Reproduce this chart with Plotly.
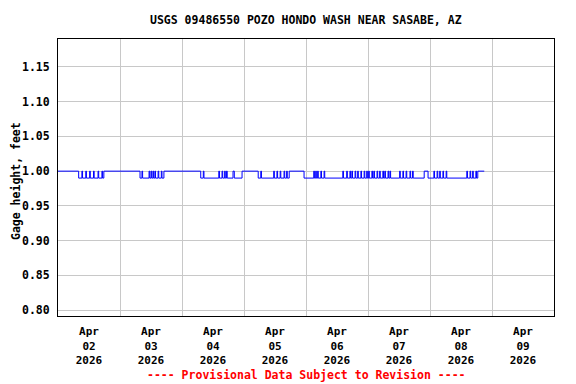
import plotly.graph_objects as go

# Change points of gage height (step data, value holds until next change)
change_times = [
    "2026-04-02 00:00", "2026-04-02 08:00",
    "2026-04-02 09:15", "2026-04-02 09:30", "2026-04-02 10:45", "2026-04-02 11:00",
    "2026-04-02 12:15", "2026-04-02 12:30", "2026-04-02 13:45", "2026-04-02 14:00",
    "2026-04-02 15:30", "2026-04-02 15:45", "2026-04-02 17:00", "2026-04-02 17:15",
    "2026-04-02 17:45",
    "2026-04-03 07:45", "2026-04-03 08:30", "2026-04-03 08:45",
    "2026-04-03 11:15", "2026-04-03 11:30", "2026-04-03 12:00", "2026-04-03 12:15",
    "2026-04-03 12:45", "2026-04-03 13:00", "2026-04-03 13:30", "2026-04-03 13:45",
    "2026-04-03 14:45", "2026-04-03 15:00", "2026-04-03 16:00", "2026-04-03 16:15",
    "2026-04-03 17:00",
    "2026-04-04 07:15", "2026-04-04 08:15", "2026-04-04 08:30",
    "2026-04-04 14:15", "2026-04-04 14:30", "2026-04-04 15:30", "2026-04-04 15:45",
    "2026-04-04 16:30", "2026-04-04 16:45", "2026-04-04 17:15", "2026-04-04 17:30",
    "2026-04-04 19:45", "2026-04-04 20:15", "2026-04-04 23:15",
    "2026-04-05 05:30", "2026-04-05 06:30", "2026-04-05 06:45",
    "2026-04-05 11:30", "2026-04-05 11:45", "2026-04-05 12:45", "2026-04-05 13:00",
    "2026-04-05 14:00", "2026-04-05 14:15", "2026-04-05 15:30", "2026-04-05 15:45",
    "2026-04-05 16:30", "2026-04-05 16:45", "2026-04-05 17:30", "2026-04-05 23:15",
    "2026-04-06 03:00", "2026-04-06 03:15", "2026-04-06 03:45", "2026-04-06 04:00",
    "2026-04-06 04:30", "2026-04-06 04:45", "2026-04-06 05:45", "2026-04-06 06:00",
    "2026-04-06 07:00", "2026-04-06 07:15",
    "2026-04-06 14:15", "2026-04-06 14:30", "2026-04-06 15:45", "2026-04-06 16:00",
    "2026-04-06 17:00", "2026-04-06 17:15", "2026-04-06 17:45", "2026-04-06 18:00",
    "2026-04-06 19:00", "2026-04-06 19:15", "2026-04-06 20:00", "2026-04-06 20:15",
    "2026-04-06 21:15", "2026-04-06 21:30", "2026-04-06 22:30", "2026-04-06 22:45",
    "2026-04-06 23:30", "2026-04-06 23:45",
    "2026-04-07 00:15", "2026-04-07 00:30", "2026-04-07 01:30", "2026-04-07 01:45",
    "2026-04-07 02:15", "2026-04-07 02:30", "2026-04-07 03:30", "2026-04-07 03:45",
    "2026-04-07 04:30", "2026-04-07 04:45", "2026-04-07 05:45", "2026-04-07 06:00",
    "2026-04-07 06:30", "2026-04-07 06:45", "2026-04-07 07:45", "2026-04-07 08:00",
    "2026-04-07 08:30", "2026-04-07 08:45",
    "2026-04-07 12:15", "2026-04-07 12:30", "2026-04-07 13:30", "2026-04-07 13:45",
    "2026-04-07 14:45", "2026-04-07 15:00", "2026-04-07 16:15", "2026-04-07 16:30",
    "2026-04-07 17:15", "2026-04-07 17:30", "2026-04-07 21:45", "2026-04-07 23:15",
    "2026-04-08 01:30", "2026-04-08 01:45", "2026-04-08 02:45", "2026-04-08 03:00",
    "2026-04-08 03:45", "2026-04-08 04:00", "2026-04-08 05:00", "2026-04-08 05:15",
    "2026-04-08 06:15", "2026-04-08 06:30",
    "2026-04-08 14:15", "2026-04-08 14:30", "2026-04-08 15:30", "2026-04-08 15:45",
    "2026-04-08 16:30", "2026-04-08 16:45", "2026-04-08 17:45", "2026-04-08 18:00",
    "2026-04-08 18:30", "2026-04-08 21:00",
]
change_values = [
    1.00, 0.99,
    1.00, 0.99, 1.00, 0.99,
    1.00, 0.99, 1.00, 0.99,
    1.00, 0.99, 1.00, 0.99,
    1.00,
    0.99, 1.00, 0.99,
    1.00, 0.99, 1.00, 0.99,
    1.00, 0.99, 1.00, 0.99,
    1.00, 0.99, 1.00, 0.99,
    1.00,
    0.99, 1.00, 0.99,
    1.00, 0.99, 1.00, 0.99,
    1.00, 0.99, 1.00, 0.99,
    1.00, 0.99, 1.00,
    0.99, 1.00, 0.99,
    1.00, 0.99, 1.00, 0.99,
    1.00, 0.99, 1.00, 0.99,
    1.00, 0.99, 1.00, 0.99,
    1.00, 0.99, 1.00, 0.99,
    1.00, 0.99, 1.00, 0.99,
    1.00, 0.99,
    1.00, 0.99, 1.00, 0.99,
    1.00, 0.99, 1.00, 0.99,
    1.00, 0.99, 1.00, 0.99,
    1.00, 0.99, 1.00, 0.99,
    1.00, 0.99,
    1.00, 0.99, 1.00, 0.99,
    1.00, 0.99, 1.00, 0.99,
    1.00, 0.99, 1.00, 0.99,
    1.00, 0.99, 1.00, 0.99,
    1.00, 0.99,
    1.00, 0.99, 1.00, 0.99,
    1.00, 0.99, 1.00, 0.99,
    1.00, 0.99, 1.00, 0.99,
    1.00, 0.99, 1.00, 0.99,
    1.00, 0.99, 1.00, 0.99,
    1.00, 0.99,
    1.00, 0.99, 1.00, 0.99,
    1.00, 0.99, 1.00, 0.99,
    1.00, 1.00,
]

tick_positions = ["2026-04-02 12:00", "2026-04-03 12:00", "2026-04-04 12:00", "2026-04-05 12:00",
                  "2026-04-06 12:00", "2026-04-07 12:00", "2026-04-08 12:00", "2026-04-09 12:00"]
tick_labels = ["<b>Apr<br>02<br>2026</b>", "<b>Apr<br>03<br>2026</b>", "<b>Apr<br>04<br>2026</b>",
               "<b>Apr<br>05<br>2026</b>", "<b>Apr<br>06<br>2026</b>", "<b>Apr<br>07<br>2026</b>",
               "<b>Apr<br>08<br>2026</b>", "<b>Apr<br>09<br>2026</b>"]
day_boundaries = ["2026-04-02", "2026-04-03", "2026-04-04", "2026-04-05", "2026-04-06",
                  "2026-04-07", "2026-04-08", "2026-04-09", "2026-04-10"]
y_ticks = [0.80, 0.85, 0.90, 0.95, 1.00, 1.05, 1.10, 1.15]
y_tick_labels = ["<b>0.80</b>", "<b>0.85</b>", "<b>0.90</b>", "<b>0.95</b>",
                 "<b>1.00</b>", "<b>1.05</b>", "<b>1.10</b>", "<b>1.15</b>"]

FONT = "DejaVu Sans Mono"
OFF = 8  # default page body margin
W, H = 576 - OFF, 384 - OFF
L, R, T, B = 58 - OFF, 22, 39 - OFF, 68
PW, PH = W - L - R, H - T - B

fig = go.Figure()
fig.add_trace(go.Scatter(
    x=change_times, y=change_values, mode="lines", line_shape="hv",
    line=dict(color="#0000ff", width=1), showlegend=False, hoverinfo="skip"))

fig.update_layout(
    width=W, height=H,
    margin=dict(l=L, r=R, t=T, b=B, autoexpand=False),
    paper_bgcolor="white", plot_bgcolor="white",
    font=dict(family=FONT, color="black", size=11),
    xaxis=dict(
        range=["2026-04-02", "2026-04-10"], type="date", automargin=False,
        tickmode="array", tickvals=tick_positions, ticktext=tick_labels,
        tickfont=dict(family=FONT, size=11, color="black"),
        showgrid=False, ticks="outside", ticklen=5, tickcolor="rgba(0,0,0,0)",
        showline=True, linecolor="black", linewidth=1, mirror=True,
        zeroline=False,
        minor=dict(tickmode="array", tickvals=day_boundaries, showgrid=True,
                   gridcolor="#c8c8c8", gridwidth=1, ticks=""),
    ),
    yaxis=dict(
        range=[0.7914, 1.1903], automargin=False,
        tickmode="array", tickvals=y_ticks, ticktext=y_tick_labels,
        tickfont=dict(family=FONT, size=11.5, color="black"),
        showgrid=True, gridcolor="#c8c8c8", gridwidth=1,
        ticks="outside", ticklen=5, tickcolor="rgba(0,0,0,0)",
        showline=True, linecolor="black", linewidth=1, mirror=True,
        zeroline=False,
    ),
)

fig.add_annotation(
    text="<b>USGS 09486550 POZO HONDO WASH NEAR SASABE, AZ</b>",
    xref="paper", yref="paper", x=0.5, y=1 + (39 - 20) / PH,
    xanchor="center", yanchor="middle", showarrow=False,
    font=dict(family=FONT, size=11.5, color="black"))

fig.add_annotation(
    text="<b>Gage height, feet</b>", textangle=-90,
    xref="paper", yref="paper", x=-(58 - 16) / PW, y=(316 - 181) / PH,
    xanchor="center", yanchor="middle", showarrow=False,
    font=dict(family=FONT, size=11.5, color="black"))

fig.add_annotation(
    text="<b>---- Provisional Data Subject to Revision ----</b>",
    xref="paper", yref="paper", x=0.5, y=-(375 - 316) / PH,
    xanchor="center", yanchor="middle", showarrow=False,
    font=dict(family=FONT, size=11.5, color="#ff0000"))

fig.write_html("out.html")
